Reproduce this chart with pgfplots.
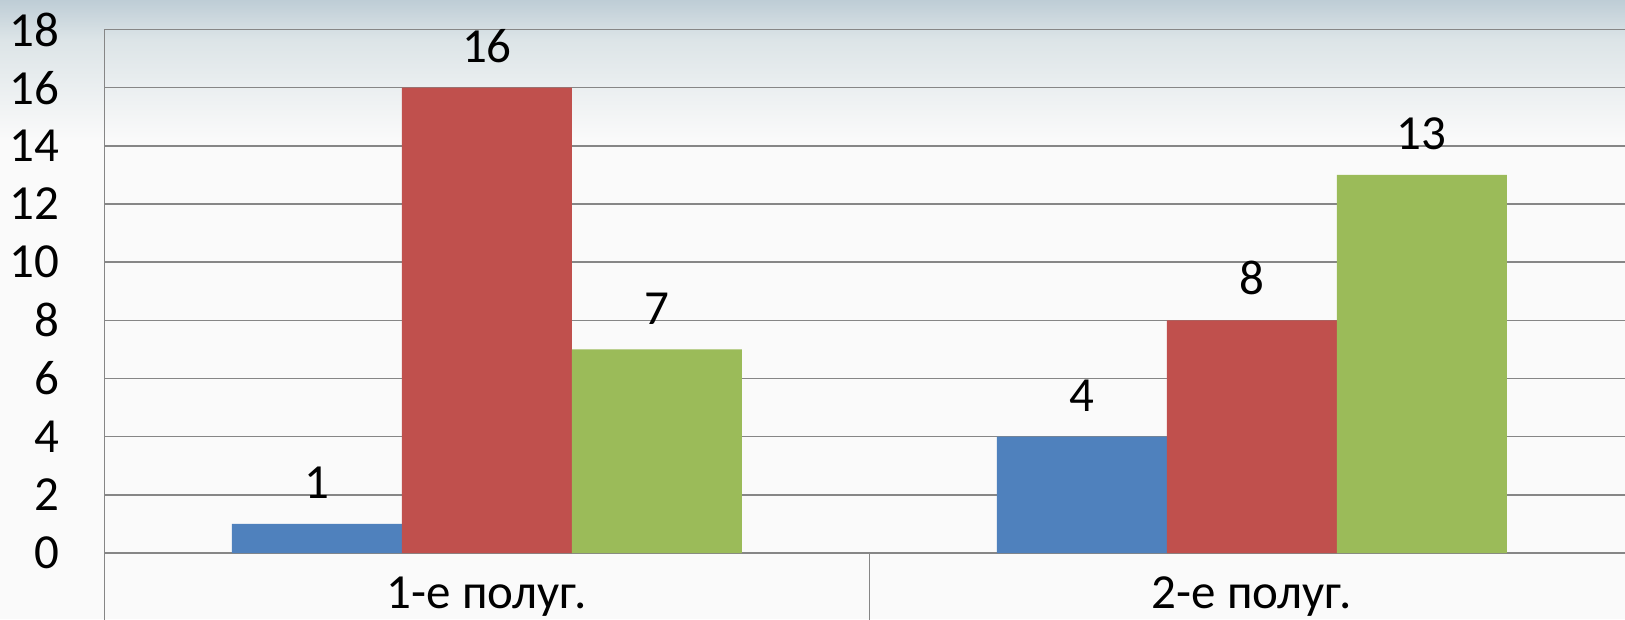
\documentclass[border=0pt]{standalone}
\usepackage{fontspec}
\setmainfont{Carlito}
\usepackage{pgfplots}
\pgfplotsset{compat=1.18}
\definecolor{sBlue}{HTML}{4F81BD}
\definecolor{sRed}{HTML}{C0504D}
\definecolor{sGreen}{HTML}{9BBB59}
\definecolor{gridc}{HTML}{868686}
\definecolor{bgw}{HTML}{FAFAFA}
\definecolor{skytop}{RGB}{190,205,214}
\definecolor{skymid}{RGB}{220,228,231}
\begin{document}
\begin{tikzpicture}[x=1pt,y=1pt]
\useasboundingbox (0,0) rectangle (1625,619);
\fill[bgw] (0,0) rectangle (1625,619);
\shade[top color=skymid, bottom color=bgw] (0,480) rectangle (1625,580);
\shade[top color=skytop, bottom color=skymid] (0,580) rectangle (1625,619);
\begin{axis}[
  at={(104.5pt,66pt)}, anchor=south west,
  scale only axis, width=1520.5pt, height=523.5pt,
  xmin=-0.5, xmax=1.488, ymin=0, ymax=18,
  ybar=0pt, bar width=170pt,
  axis x line*=bottom, axis y line*=left,
  axis line style={gridc, line width=1.6pt, -},
  ytick={0,2,...,18},
  xtick={0,1}, xticklabels={1-е полуг., 2-е полуг.},
  major tick length=0pt,
  ymajorgrids, grid style={gridc, line width=1.6pt},
  tick label style={font=\fontsize{49}{50}\selectfont, text=black},
  yticklabel style={inner sep=0pt, anchor=east, xshift=-45pt},
  xticklabel style={inner sep=0pt, anchor=base, yshift=-55pt},
  /pgf/number format/assume math mode=true,
  nodes near coords,
  every node near coord/.append style={font=\fontsize{49}{50}\selectfont, text=black, inner sep=0pt, anchor=south, yshift=25pt},
  clip=false,
]
\addplot[fill=sBlue, draw=none] coordinates {(0,1) (1,4)};
\addplot[fill=sRed, draw=none] coordinates {(0,16) (1,8)};
\addplot[fill=sGreen, draw=none] coordinates {(0,7) (1,13)};
\draw[gridc, line width=1.6pt] (axis cs:-0.5,0) -- (axis cs:-0.5,-2.4);
\draw[gridc, line width=1.6pt] (axis cs:0.5,0) -- (axis cs:0.5,-2.4);
\end{axis}
\end{tikzpicture}
\end{document}
